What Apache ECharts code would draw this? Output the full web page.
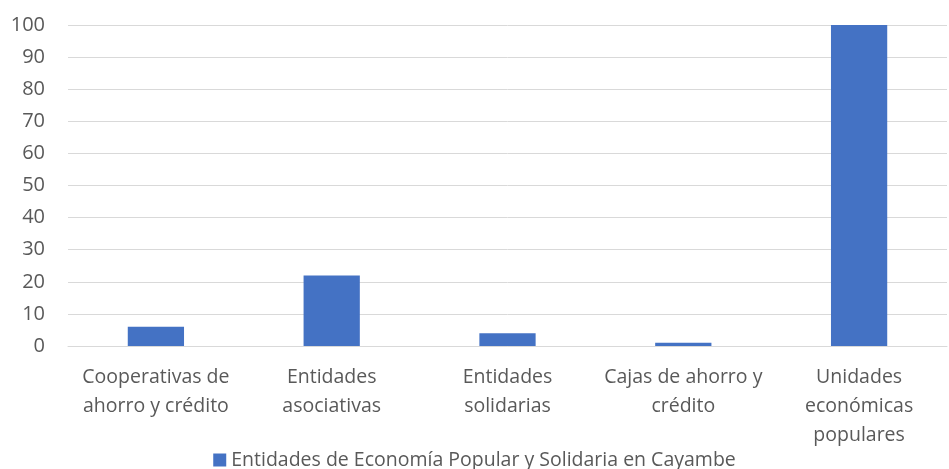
<!DOCTYPE html>
<html><head><meta charset="utf-8">
<script src="https://cdn.jsdelivr.net/npm/echarts@6/dist/echarts.min.js"></script>
<style>html,body{margin:0;padding:0;background:#fff}#c{width:949px;height:469px}</style>
</head><body><div id="c"></div>
<script>
const categories = ["Cooperativas de\nahorro y crédito", "Entidades\nasociativas", "Entidades\nsolidarias", "Cajas de ahorro y\ncrédito", "Unidades\neconómicas\npopulares"];
const values = [6, 22, 4, 1, 100];
const seriesName = "Entidades de Economía Popular y Solidaria en Cayambe";
const font = "Open Sans";
const chart = echarts.init(document.getElementById('c'));
chart.setOption({
  animation: false,
  textStyle: { fontFamily: font },
  grid: { left: 68, right: 2, top: 25, bottom: 123, containLabel: false },
  legend: {
    top: 450, left: 'center', itemWidth: 13, itemHeight: 13, itemGap: 6, padding: 0,
    icon: 'rect',
    textStyle: { color: '#595959', fontSize: 19.5, fontFamily: font },
    data: [seriesName]
  },
  xAxis: {
    type: 'category', data: categories,
    axisLine: { lineStyle: { color: '#d9d9d9' } },
    axisTick: { show: false },
    axisLabel: { color: '#595959', fontSize: 19.5, lineHeight: 29, margin: 17, interval: 0, fontFamily: font }
  },
  yAxis: {
    type: 'value', min: 0, max: 100, interval: 10,
    axisLine: { show: false }, axisTick: { show: false },
    splitLine: { lineStyle: { color: '#d9d9d9' } },
    axisLabel: { color: '#595959', fontSize: 20, margin: 23, fontFamily: font }
  },
  series: [{
    name: seriesName, type: 'bar', data: values, barWidth: '32%',
    itemStyle: { color: '#4472C4' }
  }]
});
</script></body></html>
